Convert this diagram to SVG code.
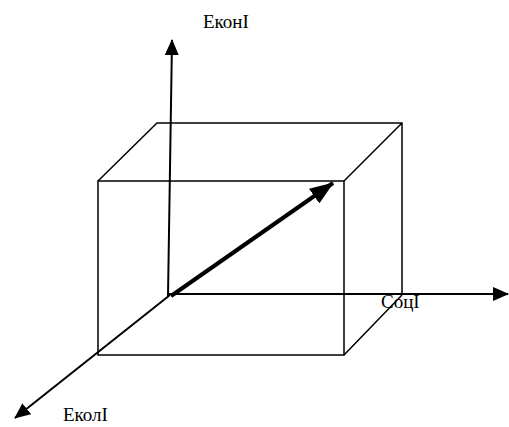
<svg xmlns="http://www.w3.org/2000/svg" width="509" height="427" viewBox="0 0 509 427">
<style>
.e{fill:none;stroke:#000;stroke-width:1.5}
.ax{fill:none;stroke:#000;stroke-width:2}
text{font-family:"Liberation Serif","Times New Roman",serif;font-size:19px;fill:#000}
</style>
<defs>
<marker id="ah" viewBox="0 0 16 14" refX="15" refY="7" markerWidth="16" markerHeight="14" markerUnits="userSpaceOnUse" orient="auto">
<path d="M0,0 L16,7 L0,14 Z" fill="#000"/>
</marker>
<marker id="ahb" viewBox="0 0 24 18" refX="23" refY="9" markerWidth="24" markerHeight="18" markerUnits="userSpaceOnUse" orient="auto">
<path d="M0,0 L24,9 L0,18 Z" fill="#000"/>
</marker>
</defs>
<g id="box">
<rect class="e" x="98" y="181" width="246" height="174"/>
<path class="e" d="M98,181 L157,123 L402,123 L402,294 M344,181 L402,123 M344,355 L402,295"/>
</g>
<g id="connectors">
<path class="ax" d="M168,296 L172,40" marker-end="url(#ah)"/>
<path class="ax" d="M168,294 L508,294" marker-end="url(#ah)"/>
<path class="ax" d="M170,295 L15,418" marker-end="url(#ah)"/>
<path fill="none" stroke="#000" stroke-width="4" d="M171,296 L333,183" marker-end="url(#ahb)"/>
</g>
<g id="labels">
<text x="203" y="28">ЕконІ</text>
<text x="381" y="308">СоцІ</text>
<text x="63" y="421">ЕколІ</text>
</g>
</svg>
